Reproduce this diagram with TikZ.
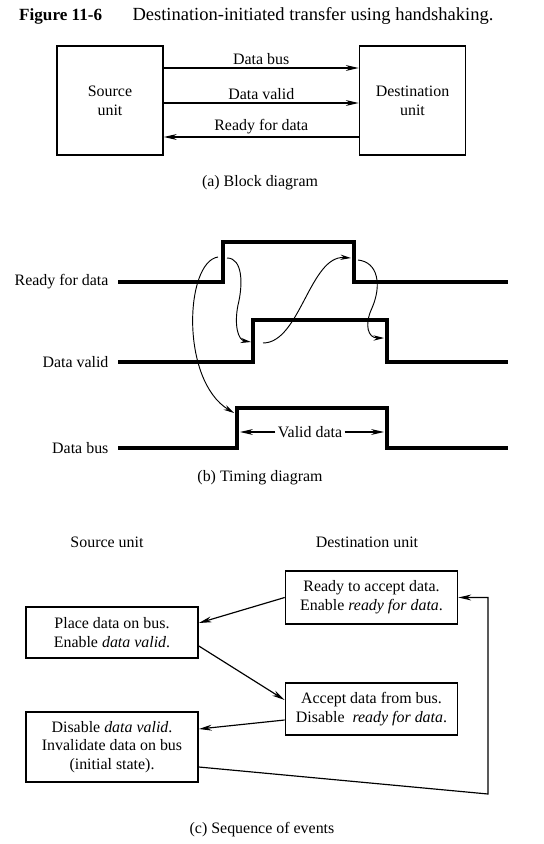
\documentclass[tikz,border=0pt]{standalone}
\usepackage{fontspec}
\setmainfont{Liberation Serif}
\usetikzlibrary{arrows.meta,positioning,calc}
\tikzset{
  basebox/.style={rectangle,draw=black,line width=1.4pt,align=center,
                  font=\fontsize{13.6}{16}\selectfont},
  unitnode/.style={basebox,minimum width=3.18cm,minimum height=3.27cm},
  stepnode/.style={basebox,minimum width=5.16cm,inner sep=2pt},
  lbl/.style={font=\fontsize{13.6}{16}\selectfont,inner sep=2pt},
  arr/.style={-{Stealth[length=11pt,width=5pt]},line width=1pt},
  curvarr/.style={-{Stealth[length=9pt,width=4.5pt]},line width=0.8pt},
  wave/.style={line width=2.7pt,line join=miter}
}
\begin{document}
\begin{tikzpicture}[x=0.03cm,y=-0.03cm]
  \useasboundingbox (0,0) rectangle (544,844);

  % Title
  \node[font=\fontsize{14.6}{17}\selectfont,inner sep=0pt,anchor=base west] (title) at (19,21)
    {\textbf{Figure 11-6}\hspace{26pt}{\fontsize{15.8}{17}\selectfont Destination-initiated transfer using handshaking.}};

  % (a) Block diagram
  \node[unitnode] (src) at (110,100.5) {Source\\unit};
  \node[unitnode] (dst) at (412.5,100.5) {Destination\\unit};
  \draw[arr] ($(src.east)+(0,-32.5)$) -- node[lbl,above]{Data bus} ($(dst.west)+(0,-32.5)$);
  \draw[arr] ($(src.east)+(0,2.5)$) -- node[lbl,above]{Data valid} ($(dst.west)+(0,2.5)$);
  \draw[arr] ($(dst.west)+(0,36.5)$) -- node[lbl,above]{Ready for data} ($(src.east)+(0,36.5)$);
  \node[lbl] (capA) at (260,183) {(a) Block diagram};

  % (b) Timing diagram
  \node[lbl,anchor=east] (rdyLbl) at (111,282) {Ready for data};
  \node[lbl,anchor=east] (dvLbl) at (111,362) {Data valid};
  \node[lbl,anchor=east] (busLbl) at (111,448) {Data bus};
  \coordinate (rdyUp) at (223,242);
  \coordinate (rdyDn) at (354,282);
  \coordinate (dvUp) at (253,320);
  \coordinate (dvDn) at (387,362);
  \coordinate (busUp) at (237,408);
  \coordinate (busDn) at (387,448);
  \draw[wave] (118,282) -| (rdyUp) -| (rdyDn) -- (508,282);
  \draw[wave] (118,362) -| (dvUp) -| (dvDn) -- (508,362);
  \draw[wave] (118,448) -| (busUp) -| (busDn) -- (508,448);

  % cause and effect
  \coordinate (c1a) at (218,257);  \coordinate (c1b) at (234,413);
  \coordinate (c2a) at (227,258);  \coordinate (c2b) at (251,342);
  \coordinate (c3a) at (263,343);  \coordinate (c3b) at (351,258);
  \coordinate (c4a) at (358,260);  \coordinate (c4b) at (384,338);
  \draw[curvarr] (c1a) .. controls (185,262) and (180,380) .. (c1b);
  \draw[curvarr] (c2a) .. controls (243,258) and (243,285) .. (238,305)
                       .. controls (234,325) and (238,340) .. (c2b);
  \draw[curvarr] (c3a) .. controls (300,343) and (310,255) .. (c3b);
  \draw[curvarr] (c4a) .. controls (378,262) and (382,285) .. (372,308)
                       .. controls (364,325) and (368,338) .. (c4b);

  \node[lbl,fill=white] (vdata) at (310,432) {Valid data};
  \draw[arr] (vdata) -- ($(vdata -| busUp)+(3,0)$);
  \draw[arr] (vdata) -- ($(vdata -| busDn)+(-3,0)$);
  \node[lbl] (capB) at (260,478) {(b) Timing diagram};

  % (c) Sequence of events
  \node[lbl] (srcHead) at (107,542) {Source unit};
  \node[lbl] (dstHead) at (367,542) {Destination unit};
  \node[stepnode,minimum height=1.59cm] (ready) at (371.5,597.5)
    {Ready to accept data.\\Enable \textit{ready for data}.};
  \node[stepnode,minimum height=1.53cm] (place) at (112,632.5)
    {Place data on bus.\\Enable \textit{data valid}.};
  \node[stepnode,minimum height=1.56cm] (accept) at (371.5,709)
    {Accept data from bus.\\Disable \ \textit{ready for data}.};
  \node[stepnode,minimum height=2.1cm] (disable) at (112,747)
    {Disable \textit{data valid}.\\Invalidate data on bus\\(initial state).};

  \draw[arr] (ready.west) -- ($(place.east)+(0,-9.5)$);
  \draw[arr] ($(place.east)+(0,13.5)$) -- ($(accept.west)+(0,-9)$);
  \draw[arr] ($(accept.west)+(0,11)$) -- ($(disable.east)+(0,-18)$);
  \coordinate (loopB) at (488,794);
  \draw[arr] ($(disable.east)+(0,20)$) -- (loopB) |- (ready.east);
  \node[lbl] (capC) at (262,830) {(c) Sequence of events};
\end{tikzpicture}
\end{document}
